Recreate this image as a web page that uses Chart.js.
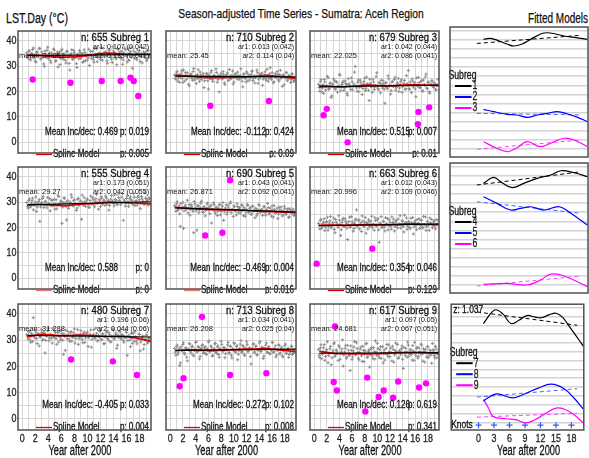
<!DOCTYPE html>
<html><head><meta charset="utf-8">
<script src="https://cdn.jsdelivr.net/npm/chart.js@4"></script>
<style>
html,body{margin:0;padding:0;background:#fff;width:589px;height:458px;overflow:hidden;position:relative;}
canvas{position:absolute;}
.t{position:absolute;font-family:'Liberation Sans',Arial,sans-serif;color:#111;white-space:nowrap;-webkit-text-stroke:0.25px #111;}
</style></head><body>
<div class="t" id="hY" style="left:6px;top:9px;font-size:14px;line-height:18px;transform-origin:0 50%">LST.Day (°C)</div>
<div class="t" id="hT" style="left:0;width:602px;text-align:center;top:5px;font-size:13px;line-height:18px;transform-origin:301px 50%">Season-adjusted Time Series - Sumatra: Aceh Region</div>
<div class="t" id="hF" style="right:1px;top:9px;font-size:14px;line-height:18px;transform-origin:100% 50%">Fitted Models</div>
<script>
// ---------- data ----------
const cloudX = [0.7,0.9,1.1,1.3,1.5,1.7,1.9,2.1,2.3,2.5,2.7,2.9,3.1,3.3,3.5,3.7,3.9,4.1,4.3,4.5,
4.7,4.9,5.1,5.3,5.5,5.7,5.9,6.1,6.3,6.5,6.7,6.9,7.1,7.3,7.5,7.7,7.9,8.1,8.3,8.5,
8.7,8.9,9.1,9.3,9.5,9.7,9.9,10.1,10.3,10.5,10.7,10.9,11.1,11.3,11.5,11.7,11.9,12.1,12.3,12.5,
12.7,12.9,13.1,13.3,13.5,13.7,13.9,14.1,14.3,14.5,14.7,14.9,15.1,15.3,15.5,15.7,15.9,16.1,16.3,16.5,
16.7,16.9,17.1,17.3,17.5,17.7,17.9,18.1,18.3,18.5,18.7,18.9,19.1,19.3,19.5];
const cloudXb = [0.8,1.0,1.2,1.4,1.6,1.8,2.0,2.2,2.4,2.6,2.8,3.0,3.2,3.4,3.6,3.8,4.0,4.2,4.4,4.6,
4.8,5.0,5.2,5.4,5.6,5.8,6.0,6.2,6.4,6.6,6.8,7.0,7.2,7.4,7.6,7.8,8.0,8.2,8.4,8.6,
8.8,9.0,9.2,9.4,9.6,9.8,10.0,10.2,10.4,10.6,10.8,11.0,11.2,11.4,11.6,11.8,12.0,12.2,12.4,12.6,
12.8,13.0,13.2,13.4,13.6,13.8,14.0,14.2,14.4,14.6,14.8,15.0,15.2,15.4,15.6,15.8,16.0,16.2,16.4,16.6,
16.8,17.0,17.2,17.4,17.6,17.8,18.0,18.2,18.4,18.6,18.8,19.0,19.2,19.4,19.6];
const cloud1 = [35.2,33.1,36.0,32.4,34.8,37.1,33.9,31.5,35.6,34.2,36.8,32.9,34.5,30.8,35.9,33.4,37.4,34.0,32.2,35.1,
33.6,36.3,31.9,34.7,29.6,35.4,33.0,36.6,32.7,34.3,31.2,35.8,33.5,28.4,34.9,32.6,36.1,33.2,30.9,34.6,
32.8,35.3,33.7,31.4,36.4,32.1,34.4,33.3,30.2,35.7,33.8,32.5,36.9,34.1,31.7,35.0,33.6,37.3,32.3,34.8,
35.5,33.9,31.1,36.2,34.6,32.7,37.6,35.2,33.4,30.5,36.5,34.9,33.1,35.8,32.4,37.0,34.3,31.6,36.7,35.1,
33.5,29.1,35.9,34.4,32.8,36.3,35.0,31.8,34.7,37.2,33.6,35.4,32.0,36.0,34.2];
const cloud1b = [33.8,35.9,32.6,34.9,36.5,33.2,31.9,35.3,34.0,37.0,32.8,35.6,33.5,29.8,34.7,36.2,33.0,35.1,31.3,34.4,
36.7,33.7,32.1,35.5,34.3,30.6,36.0,33.4,34.8,32.3,35.7,33.9,31.0,34.5,36.4,32.9,35.2,33.6,29.4,34.1,
36.1,33.1,34.9,31.8,35.4,33.8,32.4,36.6,34.2,33.0,35.8,31.5,34.6,36.8,33.3,35.0,32.6,34.3,37.1,33.7,
35.3,32.0,34.8,36.3,33.5,31.4,35.9,34.4,32.8,36.9,34.0,35.6,33.2,30.7,35.1,36.5,33.9,34.7,32.2,35.8,
37.4,34.5,33.1,35.2,32.5,34.9,36.0,33.6,31.2,35.5,34.1,32.9,36.2,33.4,34.6];
const cloud2 = [26.4,24.8,27.9,25.3,23.6,26.9,25.0,28.4,24.1,26.2,27.3,22.8,25.7,26.8,24.4,29.0,25.5,23.1,26.6,25.2,
27.6,24.7,26.0,21.5,25.8,27.1,24.2,26.5,25.1,28.2,23.9,26.3,25.6,27.4,24.6,19.8,26.1,25.4,27.8,23.4,
25.9,26.7,24.3,28.6,25.0,26.4,22.9,25.7,27.0,24.9,26.2,25.3,28.9,24.0,26.8,25.5,23.7,27.2,25.9,24.5,
26.6,28.0,25.2,23.3,26.1,27.5,24.8,25.6,26.9,22.4,25.8,27.7,24.4,26.3,25.1,29.3,24.7,26.0,23.8,27.0,
25.4,26.7,24.1,28.3,25.7,26.4,22.6,25.3,27.3,24.9,26.2,23.5,26.9,25.0,24.3];
const cloud2b = [25.1,27.2,24.0,26.5,25.6,28.1,23.5,26.0,27.4,24.8,25.9,22.2,26.7,25.3,27.8,24.5,26.2,25.0,28.5,23.9,
26.4,25.7,27.0,24.2,25.5,26.8,20.9,25.2,27.5,24.7,26.1,25.8,28.8,23.6,26.3,25.4,27.1,24.9,26.6,22.7,
25.6,27.3,24.4,26.0,25.1,28.0,23.7,26.5,25.9,27.6,24.6,26.2,25.3,21.8,26.8,25.0,27.7,24.1,26.4,25.6,
27.9,24.3,26.1,25.4,28.4,23.2,26.7,25.8,27.2,24.8,26.3,25.2,28.7,24.0,26.9,25.5,27.4,23.4,26.0,25.7,
27.8,24.5,26.6,25.1,22.0,26.4,25.9,27.5,24.2,26.1,25.3,24.6,26.8,23.8,25.4];
const cloud3 = [22.8,20.1,24.6,21.3,19.2,23.7,22.0,25.9,20.8,23.1,17.6,22.5,24.9,21.0,23.8,19.7,22.3,26.4,21.6,23.4,
20.4,24.1,22.7,18.5,23.0,21.8,25.3,20.6,22.9,29.8,21.4,23.6,19.9,24.4,22.1,21.1,23.9,20.3,25.6,22.6,
16.4,23.2,21.7,24.8,20.7,22.4,27.3,21.2,23.5,19.4,22.8,24.2,20.9,23.3,21.5,26.1,22.2,18.9,23.7,21.9,
24.7,20.5,22.9,25.1,21.3,23.8,19.6,22.4,24.3,21.0,23.1,28.2,20.8,22.6,24.9,21.7,23.4,17.9,22.7,25.5,
21.4,23.9,20.2,24.5,22.3,26.8,21.1,23.6,19.3,22.8,24.0,21.6,23.2,20.6,22.5];
const cloud3b = [21.5,23.9,19.8,22.6,24.7,20.5,22.2,25.4,21.1,23.3,18.2,22.9,24.2,20.9,23.6,21.8,26.7,20.2,22.7,24.0,
21.4,23.1,19.3,25.0,22.4,20.7,23.8,21.9,27.6,22.1,20.0,24.5,21.6,23.4,18.8,22.8,25.2,21.2,23.0,20.4,
24.8,22.3,19.6,23.7,21.7,25.8,22.0,20.6,23.2,24.4,21.3,22.9,15.3,23.5,21.0,24.9,22.5,20.3,23.9,22.2,
25.6,21.5,23.3,19.9,22.7,24.6,21.8,23.1,20.8,26.2,22.4,21.1,23.7,19.5,24.1,22.6,20.9,25.3,22.0,23.4,
21.6,24.3,20.1,22.8,25.7,21.3,23.6,19.8,22.5,24.2,21.9,23.0,20.7,22.3,24.7];
const cloud4 = [29.8,27.6,31.2,28.4,30.5,26.9,29.1,32.0,28.0,30.2,22.4,29.5,31.4,27.8,30.0,28.7,31.8,29.3,26.5,30.7,
28.5,31.0,29.0,27.3,32.6,28.9,30.4,21.6,29.7,31.5,28.2,30.1,27.5,29.4,32.9,28.8,30.6,29.2,26.7,31.1,
28.6,30.3,23.2,29.6,31.7,28.3,30.8,29.0,27.9,32.3,29.5,30.9,28.1,31.3,29.8,27.2,30.4,32.1,29.1,30.7,
28.7,31.6,30.0,26.8,29.9,32.5,30.3,28.5,31.0,29.4,33.1,30.6,28.9,31.9,22.8,30.2,29.6,32.4,28.3,31.2,
30.8,29.3,33.4,28.6,30.5,31.8,29.7,27.4,32.2,30.1,29.0,31.5,30.7,28.8,31.3];
const cloud4b = [28.3,30.6,27.9,29.6,31.5,28.7,30.0,26.3,29.3,31.0,28.1,29.8,32.2,28.9,30.3,27.7,29.5,31.3,28.5,30.7,
29.1,27.2,30.9,28.8,32.1,29.4,30.2,28.0,31.6,29.7,22.9,30.5,28.6,29.9,31.9,28.4,30.8,29.3,27.6,31.4,
29.0,30.4,32.7,28.7,30.1,29.6,31.2,27.9,30.6,29.2,31.8,28.8,30.3,33.0,29.5,30.9,28.2,31.5,29.9,30.4,
32.3,29.1,30.7,28.6,31.1,30.0,29.4,32.8,30.5,28.9,31.7,30.2,29.7,33.3,30.8,28.4,31.4,30.1,29.6,32.0,
30.6,29.0,31.9,30.3,28.7,32.4,30.9,29.5,31.2,30.0,33.6,29.8,30.7,31.6,29.2];
const cloud5 = [28.6,26.4,30.1,27.2,25.3,29.4,27.8,19.6,28.2,26.9,30.7,27.5,24.8,28.9,27.0,17.9,29.2,26.6,28.4,25.8,
27.9,30.3,26.2,28.0,24.5,27.4,29.6,26.8,28.3,21.7,27.1,29.0,25.6,27.7,26.3,28.8,24.9,27.3,29.8,26.1,
27.6,25.2,28.5,26.7,30.0,27.0,24.3,28.1,26.5,29.3,25.9,27.8,26.4,28.7,24.6,27.2,25.7,29.1,26.0,27.5,
25.1,28.4,26.6,23.8,27.3,25.5,28.9,26.2,27.0,24.7,28.2,25.8,26.9,29.4,25.3,27.6,24.4,26.8,28.6,25.6,
26.3,23.5,27.9,25.9,26.7,24.9,28.3,25.4,26.1,27.4,24.2,26.5,25.7,27.2,25.0];
const cloud5b = [27.9,29.3,26.7,28.5,20.4,27.3,29.9,26.5,28.8,27.6,25.7,29.0,27.1,28.3,26.2,30.2,27.7,18.9,28.6,26.9,
29.5,27.4,25.9,28.1,26.6,29.2,27.8,25.4,28.7,27.0,29.7,26.4,28.0,24.7,27.5,29.1,26.3,28.4,22.8,27.2,
28.9,26.0,27.6,29.4,25.8,27.1,28.5,26.5,24.9,28.2,27.3,25.6,28.8,26.8,27.9,24.4,27.0,28.6,26.1,27.7,
25.3,28.3,26.4,27.5,24.6,26.9,28.7,25.9,27.2,26.2,28.1,24.8,26.7,27.8,25.5,26.6,28.4,24.1,27.1,26.0,
27.6,25.2,26.8,28.0,24.5,26.3,27.4,25.1,26.9,23.9,27.3,25.8,26.5,24.7,26.2];
const cloud6 = [21.6,19.4,23.2,20.5,22.1,18.7,21.9,24.0,20.2,22.6,19.8,21.3,23.7,17.9,22.0,20.8,24.6,21.1,19.1,22.9,
20.4,23.4,21.7,15.2,22.3,20.0,24.2,21.4,19.6,22.8,26.9,20.7,23.0,21.2,18.4,22.5,20.3,23.9,21.8,19.3,
22.2,20.9,24.4,21.0,18.9,22.7,20.6,23.5,14.1,21.5,19.9,22.4,20.1,23.8,21.3,19.0,22.9,20.5,24.1,21.7,
18.6,22.1,20.8,23.3,21.2,19.7,22.6,20.4,24.8,21.9,19.2,22.3,20.0,23.6,21.4,17.4,22.0,20.7,23.1,21.6,
19.5,22.8,20.2,24.3,21.1,18.8,22.4,20.9,23.7,21.5,19.8,22.2,20.6,23.0,21.3];
const cloud6b = [20.8,22.7,19.6,21.5,23.4,20.1,22.3,18.9,21.7,24.3,20.5,22.0,19.2,23.1,21.3,20.0,22.8,16.8,21.9,23.6,
20.4,22.4,19.7,21.1,24.0,20.7,22.2,18.5,21.6,23.3,20.2,22.6,19.4,21.8,24.5,20.9,22.1,17.7,21.4,23.0,
20.3,22.5,19.9,21.2,23.8,20.6,22.9,19.0,21.7,24.2,20.1,22.3,18.6,21.5,23.5,20.8,22.0,19.3,21.9,23.2,
20.4,22.7,19.8,21.3,24.6,20.9,22.4,18.2,21.6,23.7,20.5,22.1,19.5,21.8,23.9,20.2,22.6,19.1,21.4,23.4,
20.7,22.8,19.7,21.1,24.1,20.3,22.2,18.8,21.7,23.1,20.6,22.5,19.4,21.2,22.9];
const cloud7 = [32.1,30.4,33.5,29.2,31.8,38.6,30.9,33.0,28.7,32.4,31.2,34.1,30.0,32.8,25.1,31.5,33.6,29.8,32.2,30.7,
34.4,31.0,32.9,28.4,31.7,33.2,30.2,32.5,24.6,31.4,33.8,30.5,32.0,29.5,33.3,31.1,32.7,28.9,31.9,34.0,
30.6,32.3,31.3,29.0,33.1,30.8,32.6,27.6,31.6,33.9,30.3,32.1,31.0,34.6,29.7,31.8,33.4,30.1,32.4,28.6,
31.2,33.0,30.7,32.8,29.4,31.5,34.2,30.4,32.0,26.9,31.9,33.5,30.9,32.2,29.9,31.3,33.7,24.2,31.7,30.0,
32.5,28.8,31.1,33.2,29.6,30.8,32.3,25.9,30.5,31.6,28.3,30.2,32.0,29.3,30.9];
const cloud7b = [31.5,33.2,30.1,32.6,29.5,31.9,33.9,30.6,32.3,27.8,31.4,33.0,30.3,32.7,29.9,31.8,34.5,30.8,32.1,28.9,
31.6,33.5,30.5,32.9,29.3,31.2,33.8,30.0,32.4,26.1,31.7,33.3,30.4,32.8,29.6,31.3,34.3,30.7,32.0,28.4,
31.5,33.6,30.2,32.5,29.1,31.9,33.1,30.9,32.2,27.3,31.4,34.0,30.6,32.6,29.8,31.1,33.7,30.3,32.3,28.7,
31.7,33.4,30.1,32.0,29.4,31.2,33.9,30.8,32.7,28.1,31.0,33.2,30.5,31.8,29.2,30.9,32.9,29.9,31.5,27.5,
30.6,32.6,29.6,31.3,28.6,30.4,32.2,29.3,30.9,26.6,30.2,31.8,28.9,30.5,29.7];
const cloud8 = [26.8,24.3,28.1,25.5,20.3,27.4,25.9,29.0,24.7,27.0,22.1,26.3,28.5,25.1,27.7,24.0,26.6,29.4,25.7,27.2,
23.8,26.9,28.2,25.3,27.5,24.5,26.1,29.7,25.8,27.3,24.2,26.7,28.8,25.0,27.8,23.5,26.4,28.4,25.6,27.1,
24.8,26.5,29.2,25.2,27.6,23.2,26.2,28.7,25.4,27.9,24.6,26.8,29.8,25.7,27.4,24.1,26.6,28.3,25.9,27.0,
20.9,26.9,28.6,25.5,27.7,24.4,26.3,29.5,25.8,27.2,23.9,26.7,28.9,25.3,27.5,24.7,26.0,29.1,25.6,27.8,
24.3,26.5,28.0,25.1,27.3,23.6,26.2,28.5,25.0,26.9,24.5,25.7,27.6,24.9,26.4];
const cloud8b = [25.4,27.5,24.6,26.9,21.3,26.1,28.3,25.2,27.0,23.5,26.5,28.7,25.8,27.3,24.3,26.0,29.1,25.5,27.6,22.8,
26.4,28.0,25.0,27.1,24.8,26.7,29.3,25.6,27.8,23.9,26.2,28.6,25.3,27.4,24.5,26.8,29.6,25.9,27.2,23.3,
26.3,28.2,25.1,27.7,24.2,26.6,29.0,25.7,27.5,22.5,26.0,28.5,25.4,27.9,24.7,26.9,29.4,25.6,27.0,23.7,
26.5,28.4,25.2,27.6,24.4,26.2,28.9,25.8,27.3,23.0,26.7,28.1,25.5,27.1,24.9,26.4,29.2,25.3,26.8,23.6,
26.1,28.3,24.8,26.6,24.0,25.9,27.9,25.0,26.3,23.4,25.6,27.7,24.6,26.0,25.2];
const cloud9 = [26.5,23.4,28.2,24.6,27.1,22.3,25.8,29.4,24.1,26.7,20.6,25.2,28.6,23.8,26.3,24.9,27.9,22.7,25.5,30.1,
24.3,26.9,23.1,28.0,25.0,18.4,26.1,23.6,27.4,24.7,29.0,25.3,22.5,26.6,24.0,27.7,21.8,25.9,28.8,23.9,
26.4,24.5,27.2,22.9,25.6,29.7,24.2,26.8,23.3,27.5,25.1,21.3,26.2,24.8,28.4,23.7,25.7,27.0,22.1,26.5,
24.4,28.9,25.4,23.0,26.0,24.6,27.8,19.2,25.3,26.9,23.5,28.1,24.9,26.3,22.4,25.8,29.2,24.1,27.3,23.8,
25.6,28.5,24.7,26.7,21.6,25.1,27.6,23.4,26.2,24.3,28.7,25.9,23.2,26.6,24.8];
const cloud9b = [24.2,27.0,22.9,25.6,28.3,23.8,26.4,21.4,25.1,27.6,23.3,26.0,29.0,24.5,25.8,22.2,27.3,24.8,26.6,20.1,
25.4,28.0,23.6,26.2,24.1,27.8,22.6,25.9,29.5,24.4,26.8,23.1,25.3,27.4,21.9,26.1,24.7,28.6,23.4,25.7,
19.7,26.5,24.0,27.1,22.8,25.5,28.8,24.3,26.3,23.0,27.5,25.0,22.4,26.9,24.6,28.2,23.7,25.2,27.7,21.6,
26.0,24.9,28.4,23.5,25.8,26.7,22.7,27.2,24.2,25.6,29.3,23.9,26.4,24.5,27.9,22.3,25.1,26.8,23.2,27.0,
24.8,28.1,22.0,25.7,26.5,23.6,27.4,24.4,25.9,21.2,26.3,24.1,27.6,23.3,25.5];

const splineX = [0.8, 3, 5, 7, 9, 11, 13, 15, 17, 19.75];
const spline1 = [34.4, 34.1, 33.6, 33.5, 33.8, 34.5, 35.1, 34.8, 34.5, 34.6];
const spline2 = [26.3, 26.0, 25.5, 25.4, 25.5, 25.6, 25.8, 26.3, 25.9, 25.1];
const spline3 = [22.3, 21.9, 21.8, 22.2, 22.5, 22.1, 22.3, 22.6, 22.5, 22.3];
const spline4 = [28.9, 29.0, 28.7, 28.6, 29.2, 29.4, 29.9, 29.8, 29.6, 29.3];
const spline5 = [27.9, 27.5, 27.2, 27.0, 26.9, 26.8, 26.5, 26.3, 26.1, 25.8];
const spline6 = [20.8, 20.9, 20.8, 21.0, 21.1, 21.0, 21.2, 21.4, 21.3, 21.1];
const spline7 = [31.2, 32.2, 31.8, 31.7, 31.9, 31.7, 31.4, 31.5, 31.0, 29.5];
const spline8 = [26.0, 26.3, 26.1, 26.0, 26.3, 26.5, 26.6, 26.8, 26.3, 25.6];
const spline9 = [25.7, 25.0, 24.8, 24.8, 24.8, 24.9, 25.2, 25.3, 25.3, 24.8];

const trendX = [0.8, 19.75];
const trend1 = [34.1, 34.6], trend2 = [26.0, 25.7], trend3 = [21.8, 22.5];
const trend4 = [28.9, 30.1], trend5 = [27.7, 26.0], trend6 = [20.7, 21.3];
const trend7 = [31.8, 31.2], trend8 = [26.1, 26.6], trend9 = [25.0, 25.2];

const outX1 = [1.6, 7.4, 12.2, 15.1, 16.6, 17.1, 17.8], outY1 = [24.7, 23.4, 24.1, 24.1, 25.4, 24.1, 18.2];
const outX2 = [6.3, 15.5], outY2 = [14.3, 16.2];
const outX3 = [2.0, 1.5, 16.5, 16.4, 18.2, 5.3], outY3 = [13.1, 10.6, 11.9, 7.1, 13.7, -0.1];
const outX4 = [], outY4 = [];
const outX5 = [5.5, 8.2, 9.4], outY5 = [16.8, 17.9, 38.6];
const outX6 = [0.4, 9.2], outY6 = [5.7, 11.6];
const outX7 = [7.5, 13.9, 17.6], outY7 = [22.6, 21.9, 16.7];
const outX8 = [5.0, 1.5, 2.1, 9.4, 15.1], outY8 = [38.9, 12.4, 15.5, 16.7, 17.4];
const outX9 = [3.3, 3.1, 3.6, 8.4, 10.2, 11.0, 12.5, 13.3, 8.1, 16.6, 17.7];
const outY9 = [35.2, 14.0, 10.8, 15.7, 8.3, 10.8, 8.0, 14.2, 2.8, 11.9, 13.5];

const nObs = [655, 710, 679, 555, 690, 663, 480, 713, 617];
const ar1Txt = ['0.107 (0.042)','0.013 (0.042)','0.042 (0.044)','0.173 (0.051)','0.043 (0.041)','0.012 (0.043)','0.196 (0.06)','0.034 (0.041)','0.097 (0.05)'];
const ar2Txt = ['0.133 (0.041)','0.114 (0.04)','0.086 (0.041)','0.042 (0.055)','0.092 (0.041)','0.109 (0.046)','0.044 (0.06)','0.025 (0.04)','0.067 (0.051)'];
const meanTxt = ['34.051','25.45','22.025','29.27','26.871','20.996','31.288','26.208','24.681'];
const incTxt = ['0.469','-0.112','0.515','0.588','-0.469','0.354','-0.405','0.272','0.126'];
const incP = ['0.019','0.424','0.007','0','0.004','0.046','0.033','0.102','0.619'];
const splineP = ['0.005','0.09','0.01','0','0.016','0.129','0.004','0.008','0.341'];

const fit1X = [0.94,2.19,3.75,5.33,6.57,8.14,9.7,11.58,12.83,14.39,15.95,17.82,20.3];
const fit1Y = [12.05,12.16,11.9,11.54,11.32,11.54,12.05,12.64,12.78,12.64,12.42,12.27,12.05];
const fit2X = [0.94,2.82,5.33,7.2,9.08,10.96,12.83,14.71,16.6,18.47,20.3];
const fit2Y = [4.36,4.1,3.81,3.74,3.48,3.74,3.92,4.1,3.85,3.48,3.0];
const fit3X = [0.94,2.82,5.33,7.2,9.08,11.58,14.08,15.95,17.82,20.3];
const fit3Y = [0.8,0.25,-0.3,0.14,0.8,0.25,0.8,1.18,0.99,0.25];
const fit4X = [0.94,2.82,4.39,6.27,8.45,10.96,13.46,15.33,17.82,20.3];
const fit4Y = [11.17,11.83,11.24,10.7,11.17,11.72,12.09,12.56,12.34,11.9];
const fit5X = [0.94,3.45,5.96,7.83,9.7,12.2,15.02,17.2,20.3];
const fit5Y = [9.7,8.97,8.24,8.42,8.6,8.24,8.6,7.88,6.59];
const fit6X = [0.94,5.33,9.08,11.58,13.46,15.95,20.3];
const fit6Y = [0.07,0.18,0,0.55,1.2,0.99,-0.18];
const fit7X = [0.94,3.13,4.7,6.27,7.83,9.39,10.96,12.2,13.77,15.02,16.27,17.2,18.77,20.3];
const fit7Y = [11.21,12.75,12.31,11.21,11.58,12.12,11.94,11.87,12.23,12.38,11.94,11.21,9.92,8.65];
const fit8X = [0.94,3.45,6.57,9.39,11.58,14.08,16.58,18.45,20.3];
const fit8Y = [2.42,3.22,2.78,3.33,3.88,4.32,3.81,2.78,1.51];
const fit9X = [0.94,1.88,2.82,5.33,7.2,9.08,10.96,12.83,15.02,16.58,18.45,20.3];
const fit9Y = [2.6,1.68,0.66,0.4,0.29,-0.07,0.29,0.95,1.61,1.5,0.88,-0.07];
const dashX = [-0.3, 19.1];
const dash1 = [11.6,12.5], dash2 = [3.92,3.74], dash3 = [-0.03,0.99];
const dash4 = [10.99,12.45], dash5 = [9.15,7.88], dash6 = [-0.11,0.99];
const dash7 = [12.53,11.02], dash8 = [2.86,3.81], dash9 = [0.58,1.02];
const knotX = [0, 3, 6, 9, 12, 15, 18];
const knotY = [-0.33, -0.33, -0.33, -0.33, -0.33, -0.33, -0.33];
const xTickYears = [0, 2, 4, 6, 8, 10, 12, 14, 16, 18];
const yTickVals = [0, 10, 20, 30, 40];
const fitTickVals = [0, 3, 6, 9, 12, 15, 18];

// ---------- assembly ----------
const clouds = [cloud1,cloud2,cloud3,cloud4,cloud5,cloud6,cloud7,cloud8,cloud9];
const cloudsB = [cloud1b,cloud2b,cloud3b,cloud4b,cloud5b,cloud6b,cloud7b,cloud8b,cloud9b];
const splines = [spline1,spline2,spline3,spline4,spline5,spline6,spline7,spline8,spline9];
const trends = [trend1,trend2,trend3,trend4,trend5,trend6,trend7,trend8,trend9];
const outXs = [outX1,outX2,outX3,outX4,outX5,outX6,outX7,outX8,outX9];
const outYs = [outY1,outY2,outY3,outY4,outY5,outY6,outY7,outY8,outY9];
const fitXs = [fit1X,fit2X,fit3X,fit4X,fit5X,fit6X,fit7X,fit8X,fit9X];
const fitYs = [fit1Y,fit2Y,fit3Y,fit4Y,fit5Y,fit6Y,fit7Y,fit8Y,fit9Y];
const dashes = [dash1,dash2,dash3,dash4,dash5,dash6,dash7,dash8,dash9];

const FONT = "'Liberation Sans',Arial,sans-serif";
Chart.defaults.font.family = FONT;
Chart.defaults.color = '#333';

const mctx = document.createElement('canvas').getContext('2d');
function sxFor(str,size,target){ mctx.font=size+'px '+FONT; return target/mctx.measureText(str).width; }
const SX_N = sxFor('n: 655 Subreg 1',11.5,68);
const SX_M = sxFor('Mean Inc/dec: 0.469',10.5,73);
const SX_S = sxFor('ar1: 0.013 (0.042)',7.5,56);
const SX_T = sxFor('18',11,9.5);
const SX_Y = sxFor('Year after 2000',14,63);
const SX_L = sxFor('Subreg',12.5,28);
document.getElementById('hT').style.transform='scaleX('+sxFor('Season-adjusted Time Series - Sumatra: Aceh Region',13,246)+')';
document.getElementById('hY').style.transform='scaleX('+sxFor('LST.Day (°C)',14,62)+')';
document.getElementById('hF').style.transform='scaleX('+sxFor('Fitted Models',14,60)+')';

const colL=[18,162,306,450], colW=[137,138,137,137], rowT=[27,163,300], PH=130;
const legendCol = ['#e00000','#e00000','#e00000','#f07070','#f07070','#e00000','#e00000','#e00000','#e00000'];
const fitCol = ['#000000','#0000ff','#ff00ff'];
const dashCol = ['#000000','#4466ff','#ff44ff'];

function addCanvas(left, top, w, h){
  const c=document.createElement('canvas');
  c.width=w;c.height=h;c.style.left=left+'px';c.style.top=top+'px';
  c.style.width=w+'px';c.style.height=h+'px';
  document.body.appendChild(c);return c;
}
function fix(w,h){return function(s){ if(w!==undefined)s.width=w; if(h!==undefined)s.height=h;
  s.paddingLeft=0;s.paddingRight=0;s.paddingTop=0;s.paddingBottom=0;};}
const pts=(xs,ys)=>xs.map((x,k)=>({x:x,y:ys[k]}));
function txt(ctx,s,x,y,size,align,sx,color){
  ctx.save();ctx.translate(x,y);ctx.scale(sx,1);
  const col=color||'#111';
  ctx.font=size+'px '+FONT;ctx.textAlign=align;ctx.textBaseline='middle';ctx.fillStyle=col;
  ctx.fillText(s,0,0);
  if(size>=10){ctx.strokeStyle=col;ctx.lineWidth=0.3;ctx.strokeText(s,0,0);}
  ctx.restore();
}
function drawTicks(chart,xVals,doX,doY){
  const ctx=chart.ctx,a=chart.chartArea,xs=chart.scales.x,ys=chart.scales.y;
  if(doY) ys.ticks.forEach(t=>{ if(yTickVals.includes(t.value)) txt(ctx,String(t.value),a.left-1.5,ys.getPixelForValue(t.value),11.5,'right',SX_T,'#222'); });
  if(doX) xs.ticks.forEach(t=>{ if(xVals.includes(t.value)) txt(ctx,String(t.value),xs.getPixelForValue(t.value),a.bottom+8.5,11.5,'center',SX_T,'#222'); });
}

function drawAnn(chart,i,row,col){
  const ctx=chart.ctx,a=chart.chartArea;ctx.save();
  const R=a.right-2;
  txt(ctx,'n: '+nObs[i]+' Subreg '+(i+1),R,a.top+7,11.5,'right',SX_N);
  txt(ctx,'ar1: '+ar1Txt[i],R,a.top+16,7.5,'right',SX_S);
  txt(ctx,'ar2: '+ar2Txt[i],R,a.top+24.5,7.5,'right',SX_S);
  txt(ctx,'mean: '+meanTxt[i],a.left+1,a.top+24.5,8,'left',SX_S);
  txt(ctx,'Mean Inc/dec: '+incTxt[i],a.left+100,a.top+101,10.5,'right',SX_M);
  txt(ctx,'p: '+incP[i],R,a.top+101,10.5,'right',SX_M);
  ctx.strokeStyle=legendCol[i];ctx.lineWidth=1.3;ctx.beginPath();
  ctx.moveTo(a.left+18,a.top+123.5);ctx.lineTo(a.left+34,a.top+123.5);ctx.stroke();
  txt(ctx,'Spline Model',a.left+35,a.top+123.5,10.5,'left',SX_M);
  txt(ctx,'p: '+splineP[i],R,a.top+123.5,10.5,'right',SX_M);
  ctx.strokeStyle='#505050';ctx.lineWidth=1.5;ctx.strokeRect(a.left,a.top,a.right-a.left,a.bottom-a.top);
  drawTicks(chart,xTickYears,row===2,col===0);
  if(row===2) txt(ctx,'Year after 2000',chart.scales.x.getPixelForValue(8.85),a.bottom+21.5,14,'center',SX_Y);
  ctx.restore();
}

function seriesPanel(i){
  const col=i%3,row=Math.floor(i/3);
  const aw=col===0?18:0, ah=row===2?29:0;
  const L=colL[col],T=rowT[row],W=colW[col];
  const cw=W+aw+2, ch=PH+ah+(ah?1:2);
  const c=addCanvas(L-aw-1,T-1,cw,ch);
  const cloudStyle={pointStyle:'cross',pointRadius:1.6,pointBorderColor:'#8e8e8e',pointBorderWidth:1,pointBackgroundColor:'#8e8e8e',showLine:false};
  new Chart(c,{type:'scatter',
    data:{datasets:[
      {data:pts(outXs[i],outYs[i]),pointRadius:3.2,pointBackgroundColor:'#ff00ff',pointBorderColor:'#ff00ff',pointBorderWidth:0,showLine:false},
      {data:pts(trendX,trends[i]),showLine:true,borderColor:'#000',borderWidth:1.2,pointRadius:0},
      {data:pts(splineX,splines[i]),showLine:true,borderColor:'#e00000',borderWidth:1.7,pointRadius:0,tension:0.4},
      Object.assign({data:pts(cloudX,clouds[i])},cloudStyle),
      Object.assign({data:pts(cloudXb,cloudsB[i])},cloudStyle)
    ]},
    options:{responsive:false,animation:false,events:[],
      layout:{padding:{left:1,top:1,right:1,bottom:ah?0:1}},
      plugins:{legend:{display:false},tooltip:{enabled:false}},
      scales:{
        x:{type:'linear',min:-0.65,max:19.75,afterFit:fix(undefined,ah),
          grid:{color:'#d6d6d6',lineWidth:1,drawTicks:false},border:{display:false},
          ticks:{display:false,stepSize:1,includeBounds:false,autoSkip:false}},
        y:{type:'linear',min:-4.3,max:43.8,afterFit:fix(aw,undefined),
          grid:{color:'#d6d6d6',lineWidth:1,drawTicks:false},border:{display:false},
          ticks:{display:false,stepSize:5,includeBounds:false,autoSkip:false}}
      }},
    plugins:[{id:'ann',afterDatasetsDraw(chart){drawAnn(chart,i,row,col);}}]
  });
}

function fitPanel(r){
  const L=colL[3],T=rowT[r],W=colW[3];
  const ah=r===2?29:0,padL=4;
  const cw=W+padL+2, ch=PH+ah+(ah?1:2);
  const c=addCanvas(L-padL,T-1,cw,ch);
  const ds=[];
  if(r===2) ds.push({data:pts(knotX,knotY),pointStyle:'cross',pointRadius:3,pointBorderColor:'#3355ff',pointBorderWidth:1.2,showLine:false});
  for(let k=0;k<3;k++){
    const idx=r*3+k;
    ds.push({data:pts(fitXs[idx],fitYs[idx]),showLine:true,borderColor:fitCol[k],borderWidth:1.2,pointRadius:0,tension:0.4});
    ds.push({data:pts(dashX,dashes[idx]),showLine:true,borderColor:dashCol[k],borderWidth:1,borderDash:[4,3],pointRadius:0});
  }
  new Chart(c,{type:'scatter',data:{datasets:ds},
    options:{responsive:false,animation:false,events:[],
      layout:{padding:{left:padL,top:1,right:1,bottom:ah?0:1}},
      plugins:{legend:{display:false},tooltip:{enabled:false}},
      scales:{
        x:{type:'linear',min:-5.3,max:20.4,afterFit:fix(undefined,ah),grid:{display:false},border:{display:false},
          ticks:{display:false,stepSize:3,includeBounds:false,autoSkip:false}},
        y:{type:'linear',min:-0.88,max:13.41,afterFit:fix(0,undefined),
          grid:{color:'#d4d4d4',lineWidth:1.5,drawTicks:false},border:{display:false},
          ticks:{display:false,stepSize:1,includeBounds:false,autoSkip:false}}
      }},
    plugins:[{id:'fitAnn',afterDatasetsDraw(chart){
      const ctx=chart.ctx,a=chart.chartArea;ctx.save();
      txt(ctx,'Subreg',a.left-1.5,a.top+48.5,12.5,'left',SX_L);
      for(let k=0;k<3;k++){
        const y=a.top+59+k*11;
        ctx.strokeStyle=fitCol[k];ctx.lineWidth=2;ctx.beginPath();ctx.moveTo(a.left+5,y);ctx.lineTo(a.left+21.5,y);ctx.stroke();
        txt(ctx,String(r*3+k+1),a.left+22.5,y,12.5,'left',SX_L,'#222');
      }
      if(r===2){
        txt(ctx,'z: 1.037',a.left+2,a.top+6,11,'left',SX_M);
        txt(ctx,'Knots',a.left,chart.scales.y.getPixelForValue(-0.33),11,'left',SX_M);
        drawTicks(chart,fitTickVals,true,false);
        txt(ctx,'Year after 2000',chart.scales.x.getPixelForValue(9.7),a.bottom+21.5,14,'center',SX_Y);
      }
      ctx.strokeStyle='#505050';ctx.lineWidth=1.5;ctx.strokeRect(a.left,a.top,a.right-a.left,a.bottom-a.top);
      ctx.restore();
    }}]
  });
}

for(let i=0;i<9;i++) seriesPanel(i);
for(let r=0;r<3;r++) fitPanel(r);
</script>
</body></html>
